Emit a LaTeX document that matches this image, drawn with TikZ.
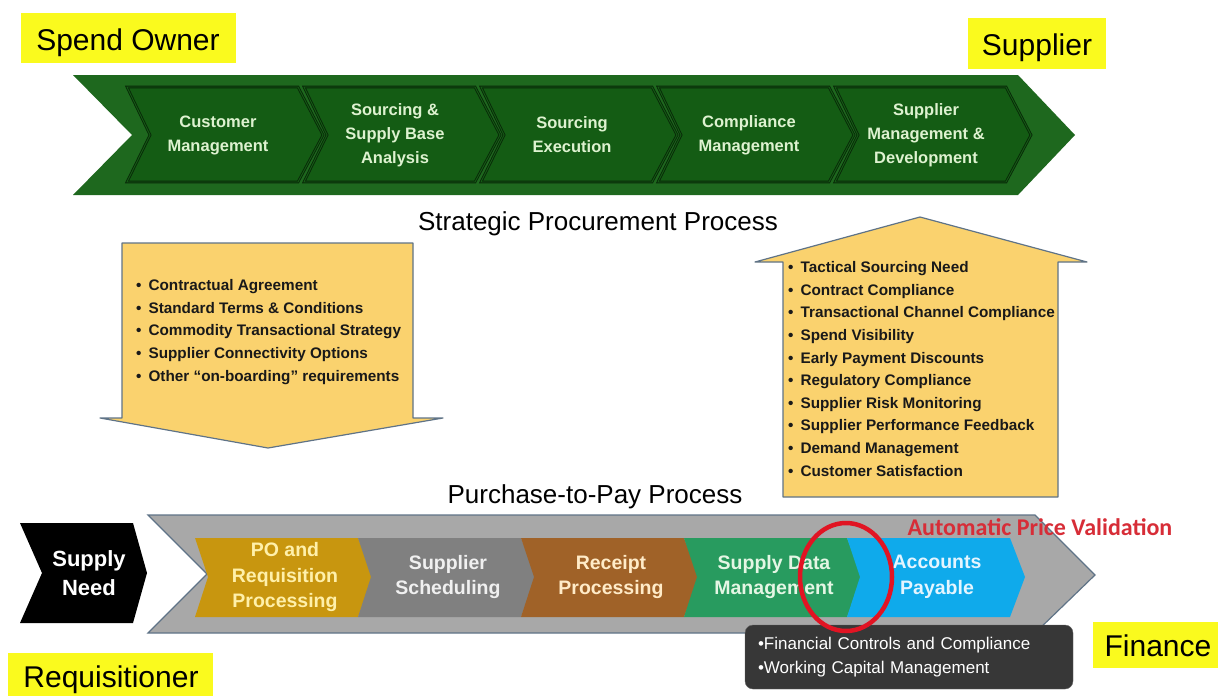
\documentclass[tikz,border=0pt]{standalone}
\usepackage{fontspec}
\setmainfont{Liberation Sans}
\newfontfamily\calfont{Carlito}

\definecolor{tagyellow}{RGB}{250,250,30}
\definecolor{bannergreen}{RGB}{30,104,30}
\definecolor{chevgreen}{RGB}{20,92,20}
\definecolor{chevline}{RGB}{8,40,8}
\definecolor{chevtext}{RGB}{222,242,208}
\definecolor{boxyellow}{RGB}{250,210,110}
\definecolor{boxline}{RGB}{95,115,135}
\definecolor{bandgray}{RGB}{168,168,168}
\definecolor{po}{RGB}{200,150,15}
\definecolor{potxt}{RGB}{255,240,170}
\definecolor{sched}{RGB}{128,128,128}
\definecolor{schedtxt}{RGB}{240,240,240}
\definecolor{rcpt}{RGB}{160,98,40}
\definecolor{rcpttxt}{RGB}{255,235,200}
\definecolor{sdm}{RGB}{40,155,95}
\definecolor{sdmtxt}{RGB}{228,246,228}
\definecolor{ap}{RGB}{15,170,235}
\definecolor{aptxt}{RGB}{228,245,255}
\definecolor{darkbox}{RGB}{55,55,55}
\definecolor{ringred}{RGB}{225,20,35}
\definecolor{notered}{RGB}{215,45,55}

\newcommand{\bul}[1]{\textbullet\hspace{7pt}#1}

\begin{document}
\begin{tikzpicture}[x=1pt,y=-1pt,
  tagtext/.style={inner sep=0pt, font=\fontsize{30}{36}\selectfont},
  toptext/.style={align=center, text=chevtext, font=\fontsize{16.5}{24}\selectfont\bfseries},
  bottext/.style={align=center, font=\fontsize{19.5}{25.5}\selectfont\bfseries},
  listtext/.style={align=left, anchor=west, inner sep=0pt, text=black!90, font=\fontsize{15.3}{22.6}\selectfont\bfseries},
  title/.style={font=\fontsize{26}{30}\selectfont},
  yarrow/.style={fill=boxyellow, draw=boxline, line width=1.2pt, line join=round}]

\useasboundingbox (0,0) rectangle (1218,696);

% labels
\fill[tagyellow] (21,13) rectangle (236,63);
\node[tagtext, anchor=base] (spend) at (128,50) {Spend Owner};
\fill[tagyellow] (968,18) rectangle (1106,69);
\node[tagtext, anchor=base] (supplier) at (1037,55) {Supplier};
\fill[tagyellow] (8,653) rectangle (213,705);
\node[tagtext, anchor=base] (req) at (111,687) {Requisitioner};
\fill[tagyellow] (1093,622) rectangle (1225,668);
\node[tagtext, anchor=base] (finance) at (1158,656) {Finance};

% strategic procurement banner
\fill[bannergreen] (73,75) -- (1018,75) -- (1075,135) -- (1018,195) -- (73,195) -- (132,135) -- cycle;
\foreach \i/\txt in {0/{Customer\\Management}, 1/{Sourcing \&\\Supply Base\\Analysis}, 2/{Sourcing\\Execution}, 3/{Compliance\\Management}, 4/{Supplier\\Management \&\\Development}} {
  \pgfmathsetmacro{\l}{127+177*\i}
  \draw[fill=chevgreen, draw=chevline, line width=0.9pt, double=chevgreen, double distance=0.9pt, line join=miter]
    (\l,87) -- ++(171,0) -- ++(25,48) -- ++(-25,47) -- ++(-171,0) -- ++(23,-47) -- cycle;
  \node[toptext] (top\i) at (\l+91,135) {\txt};
}
\node[title] (spp) at (598,224) {Strategic Procurement Process};

% down and up arrows
\draw[yarrow] (122,243) -- (413,243) -- (413,418) -- (443,418) -- (268,448) -- (100,418) -- (122,418) -- cycle;
\node[listtext] (downlist) at (136,332) {\bul{Contractual Agreement}\\\bul{Standard Terms \& Conditions}\\\bul{Commodity Transactional Strategy}\\\bul{Supplier Connectivity Options}\\\bul{Other “on-boarding” requirements}};

\draw[yarrow] (783,497) -- (783,262) -- (755,262) -- (920,217) -- (1087,262) -- (1058,262) -- (1058,497) -- cycle;
\node[listtext] (uplist) at (788,369) {\bul{Tactical Sourcing Need}\\\bul{Contract Compliance}\\\bul{Transactional Channel Compliance}\\\bul{Spend Visibility}\\\bul{Early Payment Discounts}\\\bul{Regulatory Compliance}\\\bul{Supplier Risk Monitoring}\\\bul{Supplier Performance Feedback}\\\bul{Demand Management}\\\bul{Customer Satisfaction}};

% purchase-to-pay band
\node[title] (ptp) at (595,497) {Purchase-to-Pay Process};
\fill[black] (20,523) -- (133,523) -- (147,573) -- (133,623) -- (20,623) -- (42,573) -- cycle;
\node[bottext, text=white, font=\fontsize{22}{29}\selectfont\bfseries] (need) at (89,573) {Supply\\Need};
\draw[fill=bandgray, draw=boxline, line width=1.2pt] (148,515) -- (1035,515) -- (1095,575) -- (1035,633) -- (148,633) -- (207,574) -- cycle;
\foreach \x/\col/\tcol/\txt in {195/po/potxt/{PO and\\Requisition\\Processing}, 358/sched/schedtxt/{Supplier\\Scheduling}, 521/rcpt/rcpttxt/{Receipt\\Processing}, 684/sdm/sdmtxt/{Supply Data\\Management}, 847/ap/aptxt/{Accounts\\Payable}} {
  \fill[\col] (\x,538) -- ++(163,0) -- ++(15,39) -- ++(-15,40) -- ++(-163,0) -- ++(13,-40) -- cycle;
  \node[bottext, text=\tcol] (p2p\x) at (\x+90,577) {\txt};
}

\node[draw=black!60, fill=darkbox, rounded corners=8pt, minimum width=328pt, minimum height=64pt, text width=302pt, inner xsep=13pt, align=left, text=white, font=\fontsize{17}{24}\selectfont] (fin) at (909,657) {•Financial Controls and Compliance\\•Working Capital Management};

\draw[ringred, line width=4.5pt] (846,577) ellipse [x radius=46, y radius=54];
\node[text=notered, font=\calfont\fontsize{24}{28}\selectfont\bfseries] (apv) at (1040,527) {Automatic Price Validation};

\end{tikzpicture}
\end{document}
